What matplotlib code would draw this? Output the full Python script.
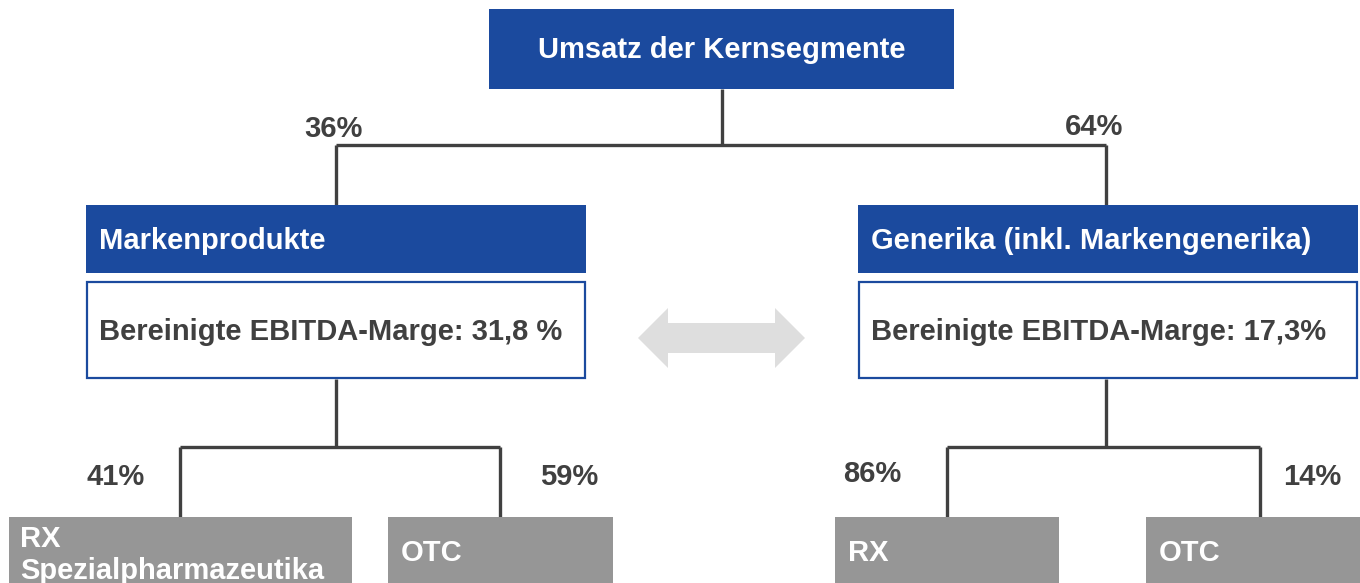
import matplotlib
matplotlib.use("Agg")
import matplotlib.pyplot as plt
from matplotlib.patches import Rectangle, Polygon

plt.rcParams['font.family'] = ['Liberation Sans', 'DejaVu Sans']

# ---- data ----
root_label = "Umsatz der Kernsegmente"
segments = ["Markenprodukte", "Generika (inkl. Markengenerika)"]
segment_shares = ["36%", "64%"]
margins = ["Bereinigte EBITDA-Marge: 31,8 %", "Bereinigte EBITDA-Marge: 17,3%"]
sub_labels = [["RX\nSpezialpharmazeutika", "OTC"], ["RX", "OTC"]]
sub_shares = [["41%", "59%"], ["86%", "14%"]]

BLUE = "#1B4A9E"
GRAY = "#969696"
DARK = "#404040"
LINE = "#404040"
ARROW = "#DEDEDE"

W, H = 1360, 583
fig = plt.figure(figsize=(W / 100, H / 100), dpi=100)
ax = fig.add_axes([0, 0, 1, 1])
ax.set_xlim(0, W)
ax.set_ylim(H, 0)
ax.axis("off")

fs = 21

def line(xs, ys):
    ax.plot(xs, ys, color=LINE, lw=2.4, solid_capstyle="butt", solid_joinstyle="miter", zorder=1)

# root box
ax.add_patch(Rectangle((489, 9), 465, 80, facecolor=BLUE, edgecolor="none", zorder=2))
ax.text(721.5, 50, root_label, color="white", fontsize=fs, fontweight="bold", ha="center", va="center", zorder=3)

# top connectors
line([722, 722], [89, 145])
line([336, 1106], [145, 145])
line([336, 336], [145, 205])
line([1106, 1106], [145, 205])

seg_x = [86, 858]
seg_w = 500
seg_centers = [336, 1106]
share_pos = [(333, 129), (1094, 127)]

sub_boxes = [[(9, 343), (388, 225)], [(835, 224), (1146, 214)]]
sub_lines = [[180, 500], [947, 1260]]
sub_share_pos = [[(116, 477), (569, 477)], [(872, 474), (1312, 477)]]

for i in range(2):
    x0 = seg_x[i]
    ax.add_patch(Rectangle((x0, 205), seg_w, 68, facecolor=BLUE, edgecolor="none", zorder=2))
    ax.text(x0 + 13, 241, segments[i], color="white", fontsize=fs, fontweight="bold", ha="left", va="center", zorder=3)
    ax.add_patch(Rectangle((x0 + 1, 282), seg_w - 2, 96, facecolor="white", edgecolor=BLUE, lw=1.6, zorder=2))
    ax.text(x0 + 13, 332, margins[i], color=DARK, fontsize=fs, fontweight="bold", ha="left", va="center", zorder=3)
    ax.text(share_pos[i][0], share_pos[i][1], segment_shares[i], color=DARK, fontsize=fs, fontweight="bold", ha="center", va="center")

    c = seg_centers[i]
    line([c, c], [379, 447])
    l, r = sub_lines[i]
    line([l, r], [447, 447])
    line([l, l], [447, 517])
    line([r, r], [447, 517])

    for j in range(2):
        bx, bw = sub_boxes[i][j]
        ax.add_patch(Rectangle((bx, 517), bw, 70, facecolor=GRAY, edgecolor="none", zorder=2))
        lab = sub_labels[i][j]
        if "\n" in lab:
            ax.text(bx + 11, 555, lab, color="white", fontsize=fs, fontweight="bold", ha="left", va="center",
                    linespacing=1.2, zorder=3)
        else:
            ax.text(bx + 13, 553, lab, color="white", fontsize=fs, fontweight="bold", ha="left", va="center", zorder=3)
        sx, sy = sub_share_pos[i][j]
        ax.text(sx, sy, sub_shares[i][j], color=DARK, fontsize=fs, fontweight="bold", ha="center", va="center")

# double arrow
ax.add_patch(Polygon([(638, 338), (668, 308), (668, 323), (775, 323), (775, 308), (805, 338),
                      (775, 368), (775, 353), (668, 353), (668, 368)],
                     closed=True, facecolor=ARROW, edgecolor="none", zorder=2))

fig.savefig("out.png", dpi=100)
